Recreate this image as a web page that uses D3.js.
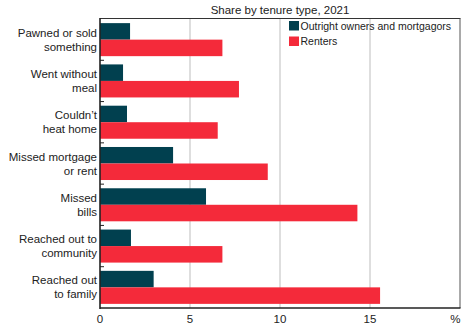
<!DOCTYPE html>
<html><head><meta charset="utf-8">
<script src="https://cdn.jsdelivr.net/npm/d3@7/dist/d3.min.js"></script>
<style>body{margin:0;background:#fff}svg{display:block}text{font-family:"Liberation Sans",Arial,sans-serif;fill:#222}</style>
</head><body>
<svg id="c" width="461" height="323"></svg>
<script>
const categories = [["Pawned or sold","something"],["Went without","meal"],["Couldn\u2019t","heat home"],["Missed mortgage","or rent"],["Missed","bills"],["Reached out to","community"],["Reached out","to family"]];
const owners = [1.67, 1.28, 1.5, 4.06, 5.89, 1.72, 2.98];
const renters = [6.8, 7.72, 6.54, 9.32, 14.3, 6.8, 15.56];
const seriesNames = ["Outright owners and mortgagors","Renters"];
const xTicks = [0,5,10,15];
const title = "Share by tenure type, 2021";
const colors = ["#01404f","#f42a3a"];

const svg = d3.select("#c");
const L=100, R=460, T=19, B=308;
const x = d3.scaleLinear().domain([0,20]).range([L,R]);
const y = d3.scaleBand().domain(d3.range(categories.length)).range([T,B]).paddingInner(0.2).paddingOuter(0.1);
const y2 = d3.scaleBand().domain([0,1]).range([0,y.bandwidth()]);

// gridlines
svg.append("g").selectAll("line").data(xTicks.filter(d=>d>0)).join("line")
  .attr("x1",d=>x(d)).attr("x2",d=>x(d)).attr("y1",T).attr("y2",B)
  .attr("stroke","#c8c8c8").attr("stroke-width",1.2);

// bars
const g = svg.append("g");
[owners,renters].forEach((s,si)=>{
  g.selectAll(".b"+si).data(s).join("rect")
    .attr("x",x(0)).attr("y",(d,i)=>y(i)+y2(si))
    .attr("width",d=>x(d)-x(0)).attr("height",y2.bandwidth())
    .attr("fill",colors[si]);
});

// border top/right
svg.append("line").attr("x1",L).attr("x2",R+0.5).attr("y1",T-0.5).attr("y2",T-0.5).attr("stroke","#333").attr("stroke-width",1);
svg.append("line").attr("x1",R).attr("x2",R).attr("y1",T-0.5).attr("y2",B).attr("stroke","#555").attr("stroke-width",1);

// left ticks at band boundaries
const bounds = d3.range(1,categories.length).map(i=>y(i)-y.step()*y.paddingInner()/2);
svg.append("g").selectAll("line").data(bounds).join("line")
  .attr("x1",L).attr("x2",L+4).attr("y1",d=>d).attr("y2",d=>d).attr("stroke","#222");

// axes lines
svg.append("line").attr("x1",L).attr("x2",L).attr("y1",T-1).attr("y2",B+1).attr("stroke","#222").attr("stroke-width",1.6);
svg.append("line").attr("x1",L).attr("x2",R+0.5).attr("y1",B).attr("y2",B).attr("stroke","#222").attr("stroke-width",1.6);

// category labels
categories.forEach((lines,i)=>{
  const cy = y(i)+y.bandwidth()/2;
  const t = svg.append("text").attr("text-anchor","end").attr("font-size","11.5px");
  lines.forEach((ln,j)=>{
    t.append("tspan").attr("x",L-3).attr("y",cy-7+j*14+4).text(ln);
  });
});

// x labels
svg.append("g").selectAll("text").data(xTicks).join("text")
  .attr("x",d=>x(d)).attr("y",322.5).attr("text-anchor","middle").attr("font-size","11.5px").text(d=>d);
svg.append("text").attr("x",x(20)+0.5).attr("y",322.5).attr("text-anchor","end").attr("font-size","11.5px").text("%");

// title
svg.append("text").attr("x",(L+R)/2).attr("y",14).attr("text-anchor","middle").attr("font-size","11.5px").text(title);

// legend
seriesNames.forEach((n,i)=>{
  svg.append("rect").attr("x",289).attr("y",21+i*15.5).attr("width",10).attr("height",9.5).attr("fill",colors[i]);
  svg.append("text").attr("x",300.5).attr("y",29.5+i*15.5).attr("font-size","10.5px").text(n);
});
</script>
</body></html>
